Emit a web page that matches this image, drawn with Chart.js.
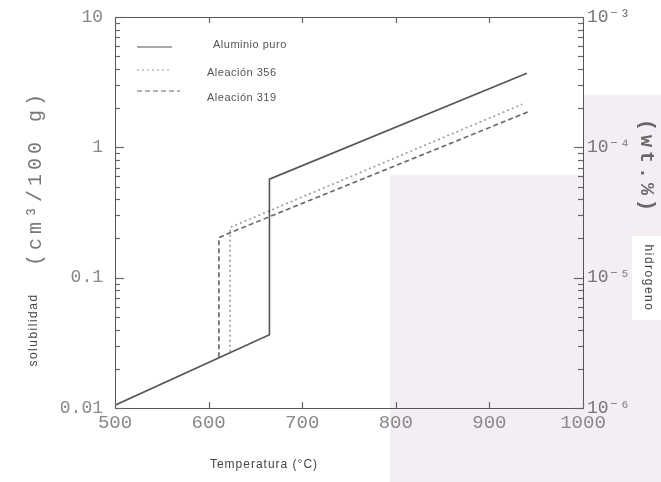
<!DOCTYPE html>
<html>
<head>
<meta charset="utf-8">
<script src="https://cdn.jsdelivr.net/npm/chart.js@4"></script>
<style>
  html, body { margin: 0; padding: 0; background: #fff; }
  #wrap { width: 661px; height: 482px; position: relative; }
</style>
</head>
<body>
<div id="wrap"><canvas id="chart" width="661" height="482"></canvas></div>
<script>
// Series (temperature in °C, solubility in cm3/100 g)
const tempPuro = [500, 665, 665, 940];
const solPuro = [0.0105, 0.0365, 0.57, 3.7];

const temp356 = [623, 623, 935];
const sol356 = [0.027, 0.243, 2.14];

const temp319 = [611, 611, 626, 943];
const sol319 = [0.0245, 0.203, 0.226, 1.89];

const seriesNames = ['Aluminio puro', 'Aleación 356', 'Aleación 319'];

const xTicks = [500, 600, 700, 800, 900, 1000];
const yTicks = [0.01, 0.1, 1, 10];
const yTickLabels = ['0.01', '0.1', '1', '10'];
const y2Ticks = [1e-6, 1e-5, 1e-4, 1e-3];
const y2TickLabels = ['10⁻⁶', '10⁻⁵', '10⁻⁴', '10⁻³'];

function toPoints(xs, ys) {
    return xs.map((x, i) => ({ x: x, y: ys[i] }));
}

function labelFor(list, labels, v) {
    const i = list.findIndex(t => Math.abs(t - v) / t < 1e-6);
    return i >= 0 ? labels[i] : '';
}

const monoFont = "'Liberation Mono', 'DejaVu Sans Mono', monospace";
const sansFont = "'Liberation Sans', 'DejaVu Sans', sans-serif";

// scanned-paper background, faint pink patch bottom right
const paperBackground = {
    id: 'paperBackground',
    beforeDraw(chart) {
        const ctx = chart.ctx;
        ctx.save();
        ctx.fillStyle = '#ffffff';
        ctx.fillRect(0, 0, chart.width, chart.height);
        ctx.fillStyle = 'rgba(236, 220, 234, 0.5)';
        ctx.fillRect(390, 175, chart.width - 390, chart.height - 175);
        ctx.fillRect(583, 95, chart.width - 583, 80);
        ctx.fillStyle = '#ffffff';
        ctx.fillRect(632, 236, 29, 84);
        ctx.restore();
    }
};

// inward tick marks (major and log minor) and the frame
const frameTicks = {
    id: 'frameTicks',
    afterDraw(chart) {
        const { ctx, chartArea: a } = chart;
        ctx.save();
        ctx.setLineDash([]);
        ctx.strokeStyle = '#555';
        ctx.lineWidth = 1;
        ctx.strokeRect(a.left + 0.5, a.top + 0.5, a.right - a.left, a.bottom - a.top);

        ctx.strokeStyle = '#666';
        ctx.lineWidth = 1.2;
        const sides = [[chart.scales.y, yTicks, 1, a.left], [chart.scales.y2, y2Ticks, -1, a.right]];
        sides.forEach(([scale, decades, dir, edge]) => {
            decades.forEach(d => {
                for (let m = 1; m <= 9; m++) {
                    const v = d * m;
                    if (v > scale.max * 1.0001) continue;
                    const p = Math.round(scale.getPixelForValue(v)) + 0.5;
                    const len = m === 1 ? 9 : 5;
                    ctx.beginPath();
                    ctx.moveTo(edge, p);
                    ctx.lineTo(edge + dir * len, p);
                    ctx.stroke();
                }
            });
        });

        const x = chart.scales.x;
        xTicks.forEach(v => {
            const p = Math.round(x.getPixelForValue(v)) + 0.5;
            ctx.beginPath();
            ctx.moveTo(p, a.bottom); ctx.lineTo(p, a.bottom - 6);
            ctx.moveTo(p, a.top); ctx.lineTo(p, a.top + 6);
            ctx.stroke();
        });
        ctx.restore();
    }
};

// legend in the top-left corner of the plot, as in the figure
const cornerLegend = {
    id: 'cornerLegend',
    afterDraw(chart) {
        const { ctx, chartArea: a } = chart;
        const rows = [30, 53, 74];
        ctx.save();
        chart.data.datasets.forEach((ds, i) => {
            const yy = a.top + rows[i];
            ctx.strokeStyle = ds.borderColor;
            ctx.lineWidth = 1.2;
            ctx.setLineDash(ds.borderDash || []);
            ctx.beginPath();
            ctx.moveTo(a.left + 22, yy);
            ctx.lineTo(a.left + (i === 2 ? 65 : 57), yy);
            ctx.stroke();
            ctx.setLineDash([]);
            ctx.fillStyle = '#555';
            ctx.font = '11px ' + sansFont;
            ctx.letterSpacing = '0.5px';
            ctx.textBaseline = 'middle';
            ctx.fillText(ds.label, a.left + (i === 0 ? 98 : 92), yy + (i === 0 ? -2 : i === 1 ? 3 : 7));
        });
        ctx.restore();
    }
};

// axis titles drawn beside the scales
const axisTitles = {
    id: 'axisTitles',
    afterDraw(chart) {
        const { ctx, chartArea: a } = chart;
        ctx.save();
        ctx.textAlign = 'center';
        ctx.textBaseline = 'middle';

        const vtext = (txt, x, y, angle, font, color, spacing) => {
            ctx.save();
            ctx.translate(x, y);
            ctx.rotate(angle);
            ctx.font = font;
            ctx.fillStyle = color;
            ctx.letterSpacing = spacing;
            ctx.fillText(txt, 0, 0);
            ctx.restore();
        };

        vtext('(cm³/100 g)', 36, 178, -Math.PI / 2, '20px ' + monoFont, '#777', '4px');
        vtext('solubilidad', 34, 330, -Math.PI / 2, '12px ' + sansFont, '#444', '1.5px');
        vtext('(wt.%)', 646, 167, Math.PI / 2, 'bold 20px ' + monoFont, '#666', '4px');
        vtext('hidrogeno', 648, 278, Math.PI / 2, '12px ' + sansFont, '#444', '1.5px');

        ctx.fillStyle = '#444';
        ctx.font = '12px ' + sansFont;
        ctx.letterSpacing = '1px';
        ctx.fillText('Temperatura (°C)', 264, a.bottom + 57);
        ctx.restore();
    }
};

new Chart(document.getElementById('chart'), {
    type: 'line',
    data: {
        datasets: [
            {
                label: seriesNames[0],
                data: toPoints(tempPuro, solPuro),
                borderColor: '#555555',
                borderWidth: 1.6,
                pointRadius: 0,
                yAxisID: 'y'
            },
            {
                label: seriesNames[1],
                data: toPoints(temp356, sol356),
                borderColor: '#9a9a9a',
                borderWidth: 1.6,
                borderDash: [2, 3],
                pointRadius: 0,
                yAxisID: 'y'
            },
            {
                label: seriesNames[2],
                data: toPoints(temp319, sol319),
                borderColor: '#666666',
                borderWidth: 1.6,
                borderDash: [5, 3],
                pointRadius: 0,
                yAxisID: 'y'
            }
        ]
    },
    options: {
        responsive: false,
        animation: false,
        layout: { padding: { top: 17, left: 0, right: 0, bottom: 0 } },
        plugins: {
            legend: { display: false },
            tooltip: { enabled: false }
        },
        scales: {
            x: {
                type: 'linear',
                min: 500,
                max: 1000,
                afterBuildTicks: s => { s.ticks = xTicks.map(v => ({ value: v })); },
                afterFit: s => { s.height = 74; s.paddingLeft = 0; s.paddingRight = 0; },
                grid: { display: false, drawTicks: false },
                border: { display: false },
                ticks: {
                    color: '#888',
                    font: { family: monoFont, size: 19 },
                    padding: 4,
                    maxRotation: 0,
                    callback: v => String(v)
                }
            },
            y: {
                type: 'logarithmic',
                position: 'left',
                min: 0.01,
                max: 10,
                afterBuildTicks: s => { s.ticks = yTicks.map(v => ({ value: v })); },
                afterFit: s => { s.width = 115; s.paddingTop = 0; s.paddingBottom = 0; },
                grid: { display: false, drawTicks: false },
                border: { display: false },
                ticks: {
                    color: '#888',
                    font: { family: monoFont, size: 18 },
                    padding: 12,
                    autoSkip: false,
                    callback: v => labelFor(yTicks, yTickLabels, v)
                }
            },
            y2: {
                type: 'logarithmic',
                position: 'right',
                min: 1e-6,
                max: 1e-3,
                afterBuildTicks: s => { s.ticks = y2Ticks.map(v => ({ value: v })); },
                afterFit: s => { s.width = 78; s.paddingTop = 0; s.paddingBottom = 0; },
                grid: { display: false, drawTicks: false },
                border: { display: false },
                ticks: {
                    color: '#777',
                    font: { family: monoFont, size: 18 },
                    padding: 4,
                    autoSkip: false,
                    callback: v => labelFor(y2Ticks, y2TickLabels, v)
                }
            }
        }
    },
    plugins: [paperBackground, frameTicks, cornerLegend, axisTitles]
});
</script>
</body>
</html>
